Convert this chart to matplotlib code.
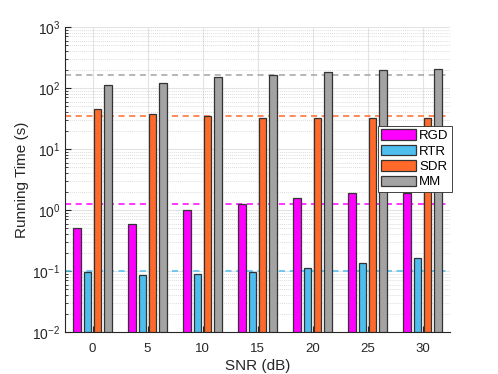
import numpy as np
import matplotlib
matplotlib.use("Agg")
from matplotlib import pyplot as plt
from matplotlib.ticker import LogLocator, NullFormatter

snr = ["0", "5", "10", "15", "20", "25", "30"]
methods = ["RGD", "RTR", "SDR", "MM"]
rgd = [0.50, 0.58, 0.98, 1.26, 1.54, 1.91, 1.91]
rtr = [0.088, 0.076, 0.080, 0.087, 0.103, 0.123, 0.155]
sdr = [45.6, 36.8, 35.0, 32.8, 32.8, 32.8, 32.8]
mm = [113, 123, 149, 165, 186, 196, 203]
# reference levels (dashed)
ref_levels = [1.24, 0.10, 35.0, 162]

colors = ["#FF00FF", "#4DBEEE", "#FF6929", "#A3A3A3"]

plt.rcParams['font.family'] = ['Liberation Sans', 'DejaVu Sans']

fig = plt.figure(figsize=(4.98, 3.74), dpi=100)
ax = fig.add_axes([65/498, 1 - 332/374, 385/498, 305/374])

x = np.arange(1, len(snr) + 1)
offsets = [-0.273, -0.091, 0.091, 0.273]
width = 0.145
for vals, off, col, name in zip([rgd, rtr, sdr, mm], offsets, colors, methods):
    ax.bar(x + off, vals, width, bottom=1e-2, color=col, edgecolor="#333333",
           linewidth=0.9, label=name, zorder=3)

for lvl, col in zip(ref_levels, colors):
    ax.axhline(lvl, color=col, linestyle=(0, (4, 3)), linewidth=1.1, zorder=2)

ax.set_yscale("log")
ax.set_ylim(1e-2, 1e3)
ax.set_xlim(0.5, 7.5)
ax.set_xticks(x)
ax.set_xticklabels(snr)
ax.yaxis.set_major_locator(LogLocator(base=10, numticks=10))
ax.yaxis.set_minor_locator(LogLocator(base=10, subs=np.arange(2, 10), numticks=100))
ax.yaxis.set_minor_formatter(NullFormatter())

ax.grid(True, which="major", color="#E3E3E3", linewidth=0.8, zorder=0)
ax.grid(True, which="minor", axis="y", color="#D0D0D0", linestyle=(0, (1, 1.5)),
        linewidth=0.6, zorder=0)
ax.set_axisbelow(True)

for s in ["top", "right"]:
    ax.spines[s].set_visible(False)
for s in ["left", "bottom"]:
    ax.spines[s].set_color("#262626")
    ax.spines[s].set_linewidth(0.8)

ax.tick_params(which="both", direction="in", colors="#262626", labelsize=10)
ax.tick_params(which="major", length=4)
ax.tick_params(which="minor", length=2)
ax.tick_params(axis="x", pad=8, labelsize=9.5)

ax.set_xlabel("SNR (dB)", fontsize=11, color="#262626", labelpad=3)
ax.set_ylabel("Running Time (s)", fontsize=11, color="#262626", labelpad=2)

leg = ax.legend(loc="upper right", bbox_to_anchor=(1.005, 0.675), fontsize=9.5,
                fancybox=False, framealpha=1, edgecolor="#262626",
                handlelength=2.65, handleheight=0.83, handletextpad=0.25,
                labelspacing=0.2, borderpad=0.25, borderaxespad=0.0)
leg.get_frame().set_linewidth(0.6)

fig.savefig("out.png", dpi=100)
